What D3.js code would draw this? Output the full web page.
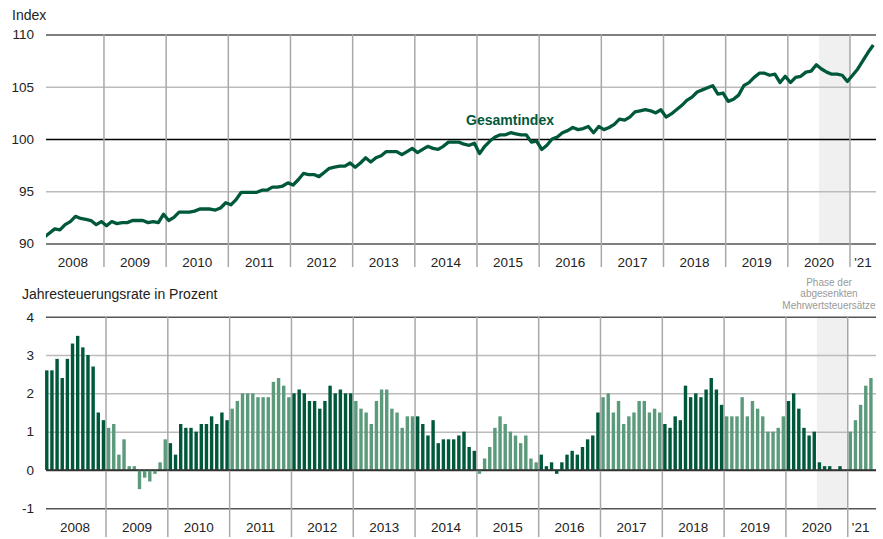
<!DOCTYPE html>
<html>
<head>
    <title>Gesamtindex und Jahresteuerungsrate</title>
    <script src="https://cdn.jsdelivr.net/npm/d3@7/dist/d3.min.js"></script>
    <style>
        body { margin: 0; background: white; }
        text { font-family: "Liberation Sans", Arial, sans-serif; fill: #222; }
    </style>
</head>
<body>
    <svg width="883" height="539"></svg>
    <script>
        // monthly values, Jan 2008 - May 2021
        const indexValues = [
            90.6, 91.0, 91.4, 91.3, 91.8, 92.1, 92.6, 92.4, 92.3, 92.2, 91.8, 92.1,
            91.7, 92.1, 91.9, 92.0, 92.0, 92.2, 92.2, 92.2, 92.0, 92.1, 92.0, 92.8,
            92.2, 92.5, 93.0, 93.0, 93.0, 93.1, 93.3, 93.3, 93.3, 93.2, 93.4, 93.9,
            93.7, 94.2, 94.9, 94.9, 94.9, 94.9, 95.1, 95.1, 95.4, 95.4, 95.5, 95.8,
            95.6, 96.1, 96.7, 96.6, 96.6, 96.4, 96.8, 97.2, 97.3, 97.4, 97.4, 97.7,
            97.3, 97.7, 98.2, 97.8, 98.2, 98.4, 98.8, 98.8, 98.8, 98.5, 98.8, 99.1,
            98.7, 99.0, 99.3, 99.1, 99.0, 99.3, 99.7, 99.7, 99.7, 99.5, 99.4, 99.6,
            98.6, 99.3, 99.8, 100.2, 100.4, 100.4, 100.6, 100.5, 100.4, 100.4, 99.7, 99.8,
            99.0, 99.4, 100.0, 100.2, 100.6, 100.8, 101.1, 100.9, 101.0, 101.2, 100.6, 101.2,
            100.9, 101.1, 101.4, 101.9, 101.8, 102.1, 102.6, 102.7, 102.8, 102.7, 102.5, 102.8,
            102.1, 102.4, 102.8, 103.2, 103.7, 104.0, 104.5, 104.7, 104.9, 105.1, 104.3, 104.4,
            103.6, 103.8, 104.2, 105.1, 105.4, 105.9, 106.3, 106.3, 106.1, 106.2, 105.4, 106.0,
            105.4, 105.9, 106.0, 106.4, 106.5, 107.1, 106.7, 106.4, 106.2, 106.2, 106.1, 105.5,
            106.1, 106.7, 107.5, 108.3, 109.0
        ];

        const rateValues = [
            2.6, 2.6, 2.9, 2.4, 2.9, 3.3, 3.5, 3.2, 3.0, 2.7, 1.5, 1.3,
            1.1, 1.2, 0.4, 0.8, 0.1, 0.1, -0.5, -0.2, -0.3, -0.1, 0.2, 0.8,
            0.7, 0.4, 1.2, 1.1, 1.1, 1.0, 1.2, 1.2, 1.4, 1.2, 1.5, 1.3,
            1.6, 1.8, 2.0, 2.0, 2.0, 1.9, 1.9, 1.9, 2.3, 2.4, 2.2, 1.9,
            2.0, 2.1, 2.0, 1.8, 1.8, 1.6, 1.8, 2.2, 2.0, 2.1, 2.0, 2.0,
            1.8, 1.6, 1.5, 1.2, 1.8, 2.1, 2.1, 1.6, 1.5, 1.1, 1.4, 1.4,
            1.4, 1.2, 0.9, 1.3, 0.7, 0.8, 0.8, 0.8, 0.9, 1.0, 0.6, 0.5,
            -0.1, 0.3, 0.6, 1.1, 1.4, 1.2, 1.0, 0.9, 0.7, 0.9, 0.3, 0.2,
            0.4, 0.1, 0.2, -0.1, 0.2, 0.4, 0.5, 0.4, 0.6, 0.8, 0.9, 1.5,
            1.9, 2.0, 1.5, 1.8, 1.2, 1.4, 1.5, 1.8, 1.8, 1.5, 1.6, 1.5,
            1.2, 1.1, 1.4, 1.3, 2.2, 1.9, 2.0, 1.9, 2.1, 2.4, 2.1, 1.7,
            1.4, 1.4, 1.4, 1.9, 1.4, 1.8, 1.6, 1.4, 1.0, 1.0, 1.1, 1.4,
            1.8, 2.0, 1.6, 1.1, 0.9, 1.0, 0.2, 0.1, 0.1, 0.0, 0.1, 0.0,
            1.0, 1.3, 1.7, 2.2, 2.4
        ];

        const years = [2008, 2009, 2010, 2011, 2012, 2013, 2014, 2015, 2016, 2017, 2018, 2019, 2020, 2021];
        const yearLabels = ['2008','2009','2010','2011','2012','2013','2014','2015','2016','2017','2018','2019','2020',"'21"];
        const indexTicks = [90, 95, 100, 105, 110];
        const rateTicks = [-1, 0, 1, 2, 3, 4];
        const vatPhase = ['2020-7', '2020-12'];
        const phaseLabel = ['Phase der', 'abgesenkten', 'Mehrwertsteuersätze'];

        const months = indexValues.map((v, i) => `${2008 + Math.floor(i / 12)}-${i % 12 + 1}`);

        const dark = '#00583b';
        const light = '#5b9a7b';
        const left = 46, right = 876;

        const svg = d3.select('svg');

        // ---------- top chart ----------
        const xTop = d3.scaleBand().domain(months).range([41.8, 875.9]);
        const yTop = d3.scaleLinear().domain([90, 110]).range([243.5, 34.5]);
        const gTop = svg.append('g');

        gTop.append('rect')
            .attr('x', xTop(vatPhase[0]))
            .attr('width', xTop(vatPhase[1]) + xTop.bandwidth() - xTop(vatPhase[0]))
            .attr('y', yTop(110))
            .attr('height', yTop(90) - yTop(110))
            .attr('fill', '#f0f0f0');

        const yAxisTop = gTop.append('g')
            .attr('transform', `translate(${left},0)`)
            .call(d3.axisLeft(yTop).tickValues(indexTicks).tickSize(-(right - left)).tickPadding(12));
        yAxisTop.select('.domain').remove();
        yAxisTop.selectAll('line')
            .attr('stroke', d => d == 100 ? '#000' : (d == 90 || d == 110) ? '#555' : '#bbb')
            .attr('stroke-width', d => d == 100 ? 1.3 : 1.5);
        yAxisTop.selectAll('text').attr('font-size', 13.5).attr('fill', '#222');

        gTop.selectAll('.vline')
            .data(years.slice(1))
            .join('line')
            .attr('x1', d => xTop(`${d}-1`))
            .attr('x2', d => xTop(`${d}-1`))
            .attr('y1', yTop(110))
            .attr('y2', 267)
            .attr('stroke', '#a8a8a8')
            .attr('stroke-width', 1.5);

        gTop.selectAll('.ylab')
            .data(years)
            .join('text')
            .attr('x', d => {
                const last = months.filter(m => m.startsWith(d + '-')).pop();
                return (xTop(`${d}-1`) + xTop(last) + xTop.bandwidth()) / 2;
            })
            .attr('y', 267)
            .attr('text-anchor', 'middle')
            .attr('font-size', 13.5)
            .text((d, i) => yearLabels[i]);

        svg.append('clipPath').attr('id', 'clipTop')
            .append('rect').attr('x', left).attr('y', 0).attr('width', right - left + 4).attr('height', 260);

        const line = d3.line()
            .x((d, i) => xTop(months[i]) + xTop.bandwidth() / 2)
            .y(d => yTop(d));

        gTop.append('path')
            .datum(indexValues)
            .attr('clip-path', 'url(#clipTop)')
            .attr('d', line)
            .attr('fill', 'none')
            .attr('stroke', dark)
            .attr('stroke-width', 3.3)
            .attr('stroke-linejoin', 'round');

        gTop.append('text')
            .attr('x', 12).attr('y', 20)
            .attr('font-size', 14)
            .text('Index');

        gTop.append('text')
            .attr('x', 510).attr('y', 125)
            .attr('text-anchor', 'middle')
            .attr('font-size', 14)
            .attr('font-weight', 'bold')
            .style('fill', dark)
            .text('Gesamtindex');

        // ---------- bottom chart ----------
        const xBot = d3.scaleBand().domain(months).range([44.2, 873.5]).paddingInner(0.34).paddingOuter(0.17);
        const yBot = d3.scaleLinear().domain([-1, 4]).range([508.3, 316.7]);
        const gBot = svg.append('g');
        const edge = m => xBot(m) - xBot.step() * xBot.paddingInner() / 2;

        gBot.append('rect')
            .attr('x', edge(vatPhase[0]))
            .attr('width', edge(vatPhase[1]) + xBot.step() - edge(vatPhase[0]))
            .attr('y', yBot(4))
            .attr('height', yBot(-1) - yBot(4))
            .attr('fill', '#f0f0f0');

        const yAxisBot = gBot.append('g')
            .attr('transform', `translate(${left},0)`)
            .call(d3.axisLeft(yBot).tickValues(rateTicks).tickFormat(d => String(d))
                .tickSize(-(right - left)).tickPadding(12));
        yAxisBot.select('.domain').remove();
        yAxisBot.selectAll('line')
            .attr('stroke', d => d == 0 ? '#333' : (d == -1 || d == 4) ? '#555' : '#bbb')
            .attr('stroke-width', 1.5);
        yAxisBot.selectAll('text').attr('font-size', 13.5).attr('fill', '#222');

        gBot.selectAll('.vline')
            .data(years.slice(1))
            .join('line')
            .attr('x1', d => edge(`${d}-1`))
            .attr('x2', d => edge(`${d}-1`))
            .attr('y1', yBot(4))
            .attr('y2', 537)
            .attr('stroke', '#a8a8a8')
            .attr('stroke-width', 1.5);

        gBot.selectAll('.bar')
            .data(rateValues)
            .join('rect')
            .attr('x', (d, i) => xBot(months[i]))
            .attr('width', xBot.bandwidth())
            .attr('y', d => yBot(Math.max(0, d)))
            .attr('height', d => Math.abs(yBot(d) - yBot(0)))
            .attr('fill', (d, i) => Math.floor(i / 12) % 2 == 0 ? dark : light);

        // zero line over the bars
        gBot.append('line')
            .attr('x1', left).attr('x2', right)
            .attr('y1', yBot(0)).attr('y2', yBot(0))
            .attr('stroke', '#333').attr('stroke-width', 1.5);

        gBot.selectAll('.ylab')
            .data(years)
            .join('text')
            .attr('x', d => {
                const last = months.filter(m => m.startsWith(d + '-')).pop();
                return (edge(`${d}-1`) + edge(last) + xBot.step()) / 2;
            })
            .attr('y', 532)
            .attr('text-anchor', 'middle')
            .attr('font-size', 13.5)
            .text((d, i) => yearLabels[i]);

        gBot.append('text')
            .attr('x', 22).attr('y', 299)
            .attr('font-size', 14)
            .text('Jahresteuerungsrate in Prozent');

        gBot.selectAll('.phase')
            .data(phaseLabel)
            .join('text')
            .attr('x', 829)
            .attr('y', (d, i) => 285.5 + i * 11.5)
            .attr('text-anchor', 'middle')
            .attr('font-size', 10)
            .style('fill', '#999')
            .text(d => d);
    </script>
</body>
</html>
